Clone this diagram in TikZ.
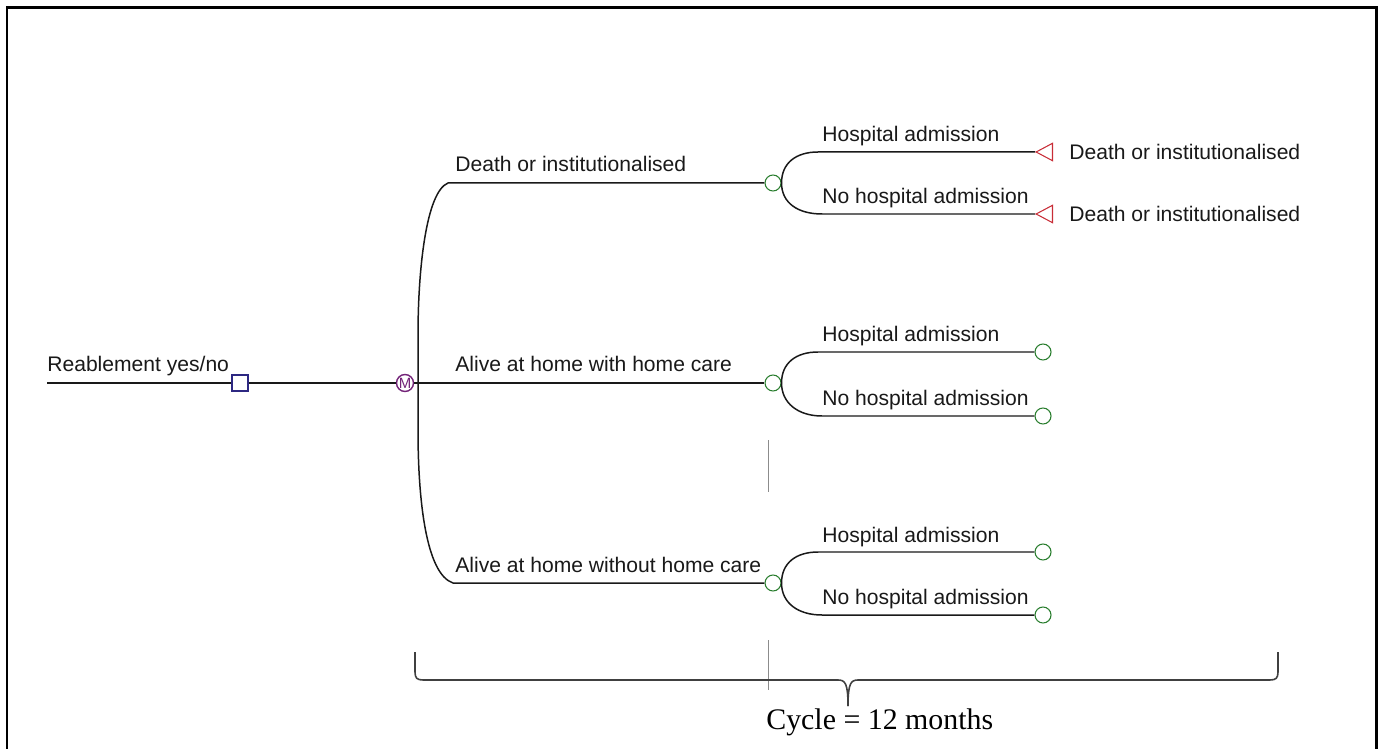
\documentclass[tikz,border=0pt]{standalone}
\usepackage{fontspec}
\setmainfont{Liberation Sans}
\newfontfamily\cyclefont{Liberation Serif}
\usepackage{tikz}
\usetikzlibrary{shapes.geometric}
\definecolor{branchline}{RGB}{25,25,25}
\definecolor{decblue}{RGB}{45,40,130}
\definecolor{markovpurple}{RGB}{115,35,120}
\definecolor{chancegreen}{RGB}{40,125,45}
\definecolor{termred}{RGB}{200,45,55}
\newcommand{\lblfont}{\fontsize{12}{14}\selectfont}
\tikzset{
    branch/.style={draw=branchline, line width=0.85pt},
    decnode/.style={draw=decblue, line width=0.8pt, rectangle, minimum size=0.32cm, inner sep=0pt},
    markovnode/.style={draw=markovpurple, line width=0.8pt, circle, minimum size=0.34cm, inner sep=0pt,
        text=markovpurple, font=\fontsize{8.5}{8.5}\selectfont},
    chancenode/.style={draw=chancegreen, line width=0.6pt, circle, minimum size=0.32cm, inner sep=0pt},
    termnode/.style={draw=termred, line width=0.6pt, isosceles triangle, shape border rotate=180,
        isosceles triangle apex angle=56, inner sep=2.4pt, anchor=apex},
    lbl/.style={anchor=base west, inner sep=0pt, font=\lblfont, text=branchline},
    termlbl/.style={anchor=west, inner sep=0pt, font=\lblfont, text=branchline},
    brace/.style={draw=black!75, line width=0.9pt},
    seam/.style={draw=black!45, line width=0.3pt}
}
\begin{document}
\begin{tikzpicture}[x=0.02cm, y=-0.02cm]
    \useasboundingbox (0,0) rectangle (1381,749);
    \draw[line width=1.7pt] (7,749) -- (7,8) -- (1376,8) -- (1376,749);

    % decision and markov node
    \coordinate (root) at (47,383);
    \node[lbl] (reab-lbl) at (47,372) {Reablement yes/no};
    \node[decnode] (dec) at (240,383) {};
    \node[markovnode] (mkv) at (405,383) {M};
    \draw[branch] (root) -- (dec.west) (dec.east) -- (mkv.west);

    % markov states
    \coordinate (mkv-top) at (448,183);
    \coordinate (mkv-bot) at (453,583);
    \node[chancenode] (cA) at (773,183) {};
    \node[chancenode] (cB) at (773,383) {};
    \node[chancenode] (cC) at (773,583) {};
    \draw[branch] (cA.west) -- (mkv-top) .. controls (426,192) and (418,270) .. (418,335)
        -- (418,430) .. controls (418,500) and (426,574) .. (mkv-bot) -- (cC.west);
    \draw[branch] (mkv.east) -- (cB.west);
    \node[lbl] at (455,172) {Death or institutionalised};
    \node[lbl] at (455,372) {Alive at home with home care};
    \node[lbl] at (455,572) {Alive at home without home care};

    % death or institutionalised
    \node[termnode] (tA1) at (1035,152) {};
    \node[termnode] (tA2) at (1035,214) {};
    \coordinate (A1) at (818,152);
    \coordinate (A2) at (822,214);
    \draw[branch] (cA.east) .. controls +(0,-20) and +(-22,0) .. (A1) -- (tA1.apex);
    \draw[branch] (cA.east) .. controls +(0,20) and +(-24,0) .. (A2) -- (tA2.apex);
    \node[lbl] at (822,142) {Hospital admission};
    \node[lbl] at (822,204) {No hospital admission};
    \node[termlbl] at (1069,152) {Death or institutionalised};
    \node[termlbl] at (1069,214) {Death or institutionalised};

    % alive with home care
    \node[chancenode] (eB1) at (1043,352) {};
    \node[chancenode] (eB2) at (1043,416) {};
    \coordinate (B1) at (818,352);
    \coordinate (B2) at (822,416);
    \draw[branch] (cB.east) .. controls +(0,-20) and +(-22,0) .. (B1) -- (eB1.west);
    \draw[branch] (cB.east) .. controls +(0,20) and +(-24,0) .. (B2) -- (eB2.west);
    \node[lbl] at (822,342) {Hospital admission};
    \node[lbl] at (822,405) {No hospital admission};

    % alive without home care
    \node[chancenode] (eC1) at (1043,552) {};
    \node[chancenode] (eC2) at (1043,615) {};
    \coordinate (C1) at (818,552);
    \coordinate (C2) at (822,615);
    \draw[branch] (cC.east) .. controls +(0,-20) and +(-22,0) .. (C1) -- (eC1.west);
    \draw[branch] (cC.east) .. controls +(0,20) and +(-24,0) .. (C2) -- (eC2.west);
    \node[lbl] at (822,542) {Hospital admission};
    \node[lbl] at (822,604) {No hospital admission};

    % cycle brace
    \draw[seam] (768,440) -- (768,492) (768,640) -- (768,690);
    \coordinate (br-left) at (415,652);
    \coordinate (br-right) at (1278,652);
    \coordinate (br-tip) at (848,706);
    \draw[brace] (br-left) -- (415,672) .. controls (415,678) and (417,680) .. (423,680)
        -- (838,680) .. controls (845,680) and (848,683) .. (br-tip);
    \draw[brace] (br-right) -- (1278,672) .. controls (1278,678) and (1276,680) .. (1270,680)
        -- (858,680) .. controls (851,680) and (848,683) .. (br-tip);
    \node[anchor=west, inner sep=0pt, font=\cyclefont\fontsize{17}{20}\selectfont] (cycle) at (766,722) {Cycle = 12 months};
\end{tikzpicture}
\end{document}
